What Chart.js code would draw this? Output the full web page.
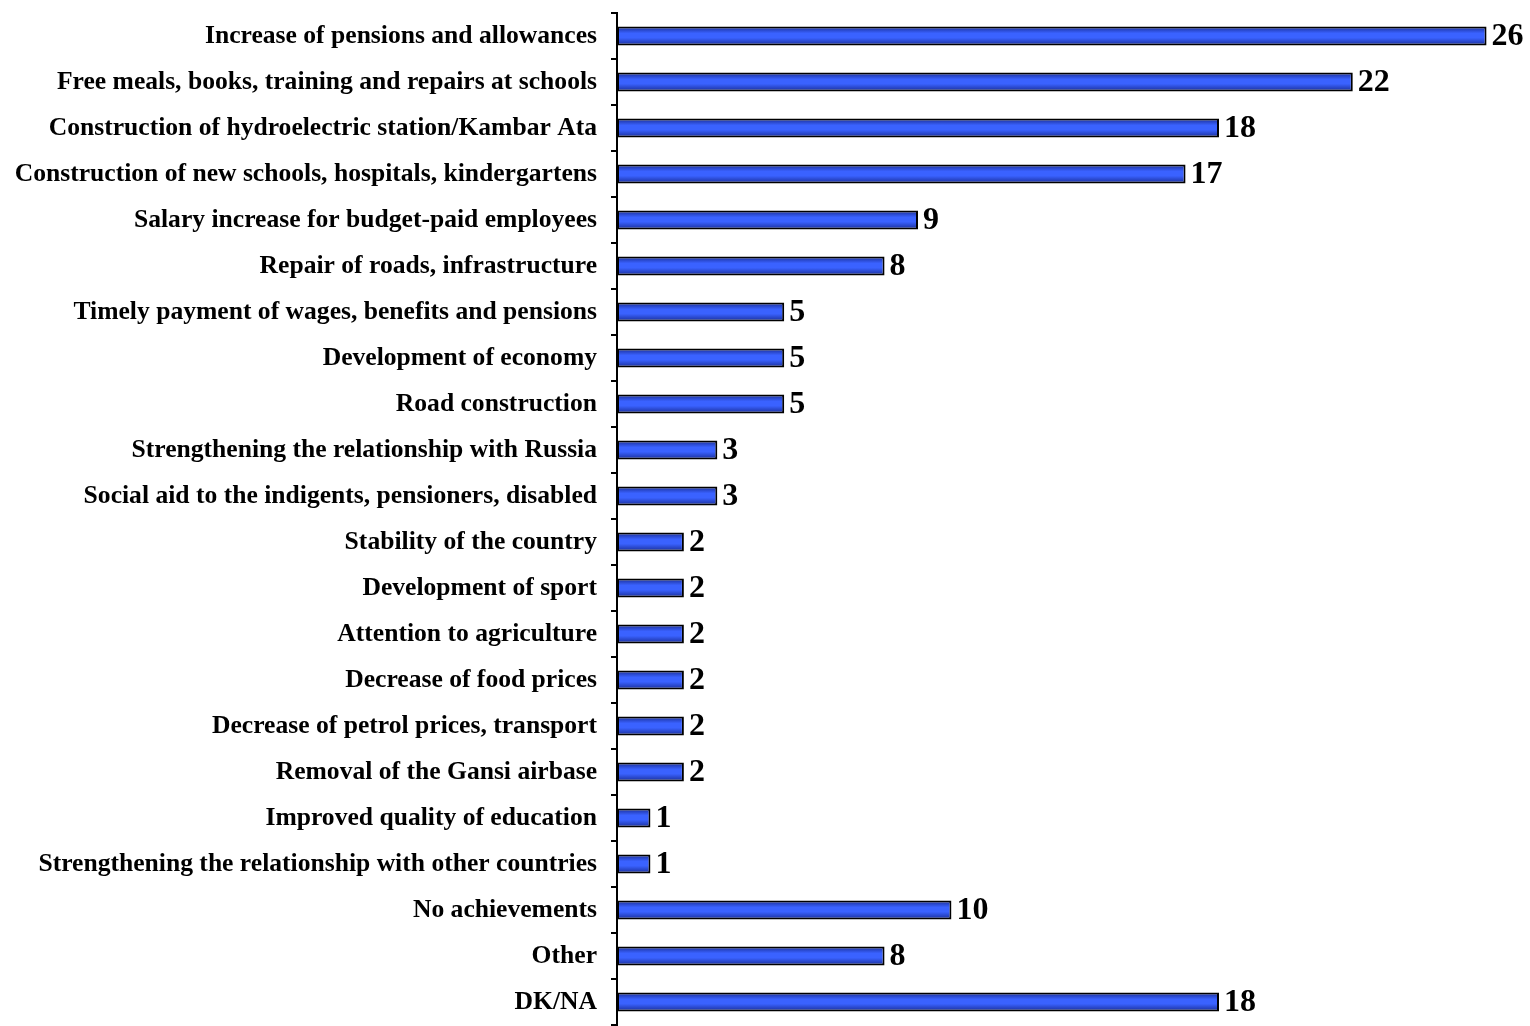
<!DOCTYPE html>
<html>
<head>
<meta charset="utf-8">
<script src="https://cdn.jsdelivr.net/npm/chart.js@4/dist/chart.umd.min.js"></script>
<style>
  html, body { margin: 0; padding: 0; background: #fff; }
  #wrap { width: 1530px; height: 1026px; position: relative; }
</style>
</head>
<body>
<div id="wrap"><canvas id="achievements"></canvas></div>
<script>
const categories = [
    'Increase of pensions and allowances',
    'Free meals, books, training and repairs at schools',
    'Construction of hydroelectric station/Kambar Ata',
    'Construction of new schools, hospitals, kindergartens',
    'Salary increase for budget-paid employees',
    'Repair of roads, infrastructure',
    'Timely payment of wages, benefits and pensions',
    'Development of economy',
    'Road construction',
    'Strengthening the relationship with Russia',
    'Social aid to the indigents, pensioners, disabled',
    'Stability of the country',
    'Development of sport',
    'Attention to agriculture',
    'Decrease of food prices',
    'Decrease of petrol prices, transport',
    'Removal of the Gansi airbase',
    'Improved quality of education',
    'Strengthening the relationship with other countries',
    'No achievements',
    'Other',
    'DK/NA'
];
const values = [26, 22, 18, 17, 9, 8, 5, 5, 5, 3, 3, 2, 2, 2, 2, 2, 2, 1, 1, 10, 8, 18];

const serif = '"Liberation Serif", "Times New Roman", serif';

// vertical shading on each bar, dark edges and a bright middle
const barFill = (c) => {
    const chart = c.chart;
    const y = chart.scales.y;
    if (!y || !chart.chartArea) return '#3358f5';
    const cy = y.getPixelForValue(c.dataIndex);
    const half = 9;
    const g = chart.ctx.createLinearGradient(0, cy - half, 0, cy + half);
    g.addColorStop(0, '#1a2f9c');
    g.addColorStop(0.35, '#3a62ff');
    g.addColorStop(0.6, '#3a62ff');
    g.addColorStop(1, '#1a2f9c');
    return g;
};

const valueLabels = {
    id: 'valueLabels',
    afterDatasetsDraw(chart) {
        const ctx = chart.ctx;
        const meta = chart.getDatasetMeta(0);
        ctx.save();
        ctx.font = 'bold 32px ' + serif;
        ctx.fillStyle = '#000';
        ctx.textAlign = 'left';
        ctx.textBaseline = 'middle';
        meta.data.forEach((bar, i) => {
            ctx.fillText(String(values[i]), bar.x + 5, bar.y + 1);
        });
        ctx.restore();
    }
};

new Chart(document.getElementById('achievements').getContext('2d'), {
    type: 'bar',
    data: {
        labels: categories,
        datasets: [{
            data: values,
            backgroundColor: barFill,
            borderColor: '#000',
            borderWidth: 2,
            borderSkipped: false,
            categoryPercentage: 1,
            barPercentage: 0.41
        }]
    },
    options: {
        indexAxis: 'y',
        responsive: true,
        maintainAspectRatio: false,
        animation: false,
        layout: { padding: { top: 13, bottom: 1, right: 10, left: 0 } },
        plugins: {
            legend: { display: false },
            tooltip: { enabled: false }
        },
        scales: {
            x: {
                display: false,
                min: 0,
                max: 27
            },
            y: {
                afterFit(scale) {
                    scale.width = 617;
                    scale.paddingTop = 0;
                    scale.paddingBottom = 0;
                },
                border: { display: true, color: '#000', width: 2 },
                grid: {
                    display: true,
                    offset: true,
                    drawOnChartArea: false,
                    drawTicks: true,
                    tickLength: 6,
                    color: '#000',
                    lineWidth: 2
                },
                ticks: {
                    color: '#000',
                    padding: 14,
                    autoSkip: false,
                    font: { family: serif, size: 25.6, weight: 'bold' }
                }
            }
        }
    },
    plugins: [valueLabels]
});
</script>
</body>
</html>
